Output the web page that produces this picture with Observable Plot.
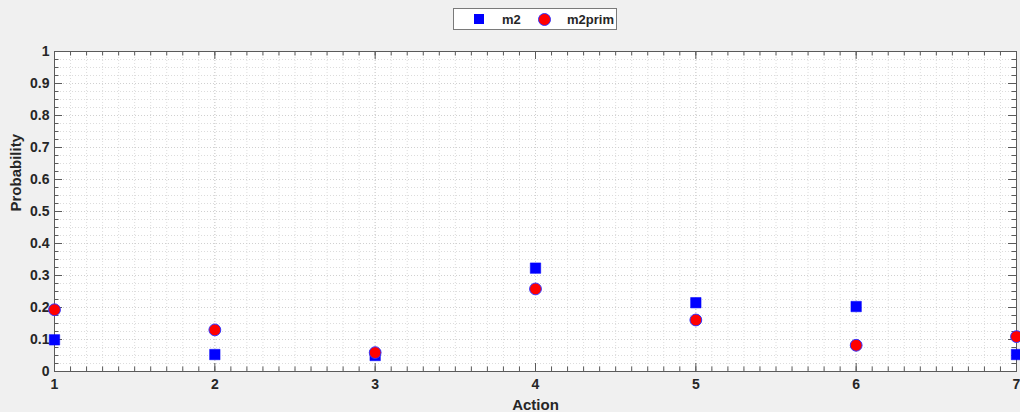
<!DOCTYPE html>
<html>
<head>
<meta charset="utf-8">
<script src="https://cdn.jsdelivr.net/npm/d3@7"></script>
<script src="https://cdn.jsdelivr.net/npm/@observablehq/plot@0.6"></script>
<style>
  html, body { margin: 0; padding: 0; background: #f0f0f0; }
  #wrap { position: relative; width: 1020px; height: 412px; overflow: hidden; }
  #legend {
    position: absolute; left: 453px; top: 8px; width: 164px; height: 22px;
    background: #fff; border: 1px solid #7a7a7a; box-sizing: border-box;
    font: bold 13px "Liberation Sans", Arial, sans-serif; color: #262626;
  }
  #legend .sw { position: absolute; }
  #legend .lab { position: absolute; top: 3px; }
</style>
</head>
<body>
<div id="wrap">
  <div id="chart"></div>
  <div id="legend">
    <span class="sw" style="left:20px;top:5px;width:10px;height:10px;background:#0000ff;"></span>
    <span class="lab" style="left:48px;">m2</span>
    <span class="sw" style="left:84px;top:4px;width:11px;height:11px;border-radius:50%;background:#ff0000;border:1px solid #3333ff;"></span>
    <span class="lab" style="left:113px;">m2prim</span>
  </div>
</div>
<script>
// Action index and probabilities of the two models
const actions = [1, 2, 3, 4, 5, 6, 7];
const m2 = [0.099, 0.053, 0.050, 0.323, 0.215, 0.203, 0.053];
const m2prim = [0.193, 0.130, 0.059, 0.258, 0.161, 0.082, 0.109];

// Tick labels
const xTicks = [1, 2, 3, 4, 5, 6, 7];
const yTicks = [0, 0.1, 0.2, 0.3, 0.4, 0.5, 0.6, 0.7, 0.8, 0.9, 1];

const rows = actions.map((a, i) => ({action: a, m2: m2[i], m2prim: m2prim[i]}));

// Layout
const W = 1020, H = 412;
const mL = 54, mR = 4, mT = 51, mB = 41;
const plotW = W - mL - mR, plotH = H - mT - mB;
const pxX = 6 / plotW;   // x units per pixel
const pxY = 1 / plotH;   // y units per pixel

// Minor tick positions
const xMinor = d3.range(10, 71).map(d => d / 10);
const yMinor = d3.range(0, 41).map(d => d / 40);

const majorLen = 8, minorLen = 4.5;
const axisColor = "#5a5a5a";
const minorGrid = {stroke: "#dcdcdc", strokeOpacity: 1, strokeDasharray: "1,2", strokeWidth: 1};
const majorGrid = {stroke: "#d0d0d0", strokeOpacity: 1, strokeDasharray: "1,2", strokeWidth: 1};
const font = "'Liberation Sans', Arial, sans-serif";

const chart = Plot.plot({
  width: W, height: H,
  marginLeft: mL, marginRight: mR, marginTop: mT, marginBottom: mB,
  style: {background: "transparent", fontFamily: font, fontSize: "14px", fontWeight: "bold", color: "#262626", overflow: "visible"},
  x: {domain: [1, 7]},
  y: {domain: [0, 1]},
  marks: [
    Plot.frame({fill: "white"}),
    Plot.gridX(xMinor, minorGrid),
    Plot.gridY(yMinor, minorGrid),
    Plot.gridX(xTicks, majorGrid),
    Plot.gridY(yTicks, majorGrid),
    // inward ticks on all four sides
    Plot.ruleX(xMinor, {x: d => d, y1: 0, y2: minorLen * pxY, stroke: axisColor}),
    Plot.ruleX(xMinor, {x: d => d, y1: 1, y2: 1 - minorLen * pxY, stroke: axisColor}),
    Plot.ruleX(xTicks, {x: d => d, y1: 0, y2: majorLen * pxY, stroke: axisColor}),
    Plot.ruleX(xTicks, {x: d => d, y1: 1, y2: 1 - majorLen * pxY, stroke: axisColor}),
    Plot.ruleY(yMinor, {y: d => d, x1: 1, x2: 1 + minorLen * pxX, stroke: axisColor}),
    Plot.ruleY(yMinor, {y: d => d, x1: 7, x2: 7 - minorLen * pxX, stroke: axisColor}),
    Plot.ruleY(yTicks, {y: d => d, x1: 1, x2: 1 + majorLen * pxX, stroke: axisColor}),
    Plot.ruleY(yTicks, {y: d => d, x1: 7, x2: 7 - majorLen * pxX, stroke: axisColor}),
    Plot.frame({stroke: axisColor}),
    Plot.axisX(xTicks, {tickSize: 0, tickPadding: 8, fontSize: 14, fontWeight: "bold", label: null, tickFormat: d3.format("d")}),
    Plot.axisY(yTicks, {tickSize: 0, tickPadding: 5, fontSize: 14, fontWeight: "bold", label: null, tickFormat: d => String(+d.toFixed(1))}),
    Plot.text(["Action"], {frameAnchor: "bottom", dy: 34, text: d => d, fontSize: 15, fontWeight: "bold", lineAnchor: "middle"}),
    Plot.text(["Probability"], {frameAnchor: "left", dx: -38, rotate: -90, text: d => d, fontSize: 15, fontWeight: "bold"}),
    Plot.dot(rows, {x: "action", y: "m2", symbol: "square", r: 5.9, fill: "#0000ff", stroke: "#0000ff", strokeWidth: 0.5}),
    Plot.dot(rows, {x: "action", y: "m2prim", symbol: "circle", r: 5.9, fill: "#ff0000", stroke: "#3333ff", strokeWidth: 1})
  ]
});
document.getElementById("chart").appendChild(chart);
</script>
</body>
</html>
